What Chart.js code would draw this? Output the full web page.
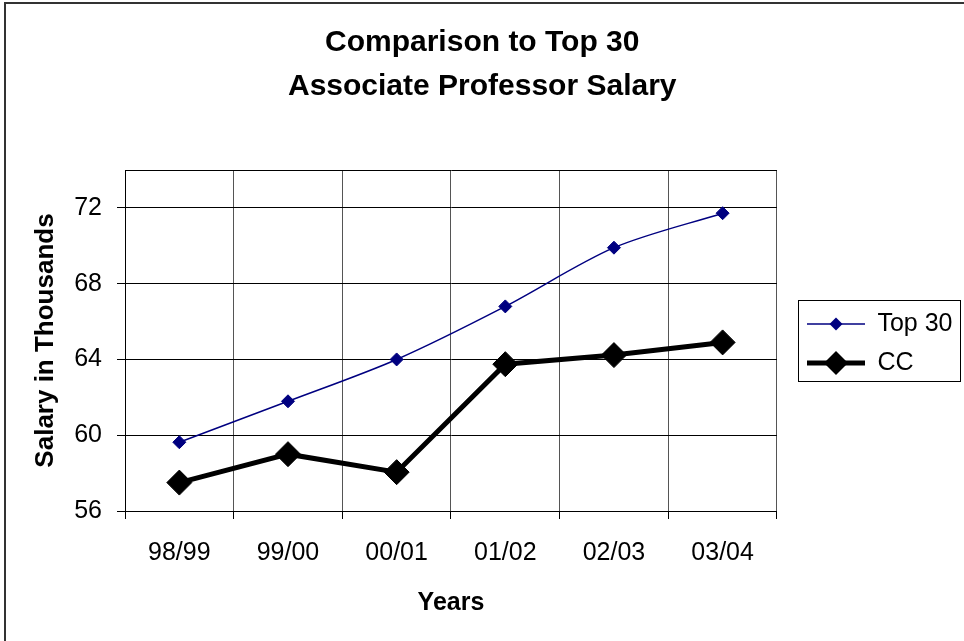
<!DOCTYPE html>
<html>
<head>
<meta charset="utf-8">
<title>Comparison to Top 30 - Associate Professor Salary</title>
<script src="https://cdn.jsdelivr.net/npm/chart.js@4.4.1/dist/chart.umd.min.js"></script>
<style>
  html, body { margin: 0; padding: 0; background: #fff; overflow: hidden; }
  #frame { position: absolute; left: 4px; top: 2px; width: 2000px; height: 2000px;
           border: 2px solid #333; pointer-events: none; }
  #salaryChart { position: absolute; left: 0; top: 0; }
</style>
</head>
<body>
<canvas id="salaryChart" width="964" height="641"></canvas>
<div id="frame"></div>
<script>
/* ================= Data ================= */

const years = ['98/99', '99/00', '00/01', '01/02', '02/03', '03/04'];
const top30 = [59.63, 61.79, 64.0, 66.8, 69.9, 71.72];
const cc = [57.5, 59.0, 58.05, 63.75, 64.23, 64.9];
const yTicks = [56, 60, 64, 68, 72];
const yMin = 56;
const yMax = 74;

/* ================= Styling ================= */

const FONT = "'Liberation Sans', Arial, sans-serif";
Chart.defaults.font.family = FONT;
Chart.defaults.color = '#000';

// legend sample: short line with a diamond, like the Excel key.
// the blank strip on its left keeps the legend away from the plot
const KEY_GAP = 16;
const KEY_LEN = 58;
function legendSample(lineWidth, color, radius) {
  const c = document.createElement('canvas');
  c.width = KEY_GAP + KEY_LEN;
  c.height = 28;
  const g = c.getContext('2d');
  const mid = KEY_GAP + KEY_LEN / 2;
  g.strokeStyle = color;
  g.fillStyle = color;
  g.lineWidth = lineWidth;
  g.beginPath();
  g.moveTo(KEY_GAP, 14);
  g.lineTo(KEY_GAP + KEY_LEN, 14);
  g.stroke();
  g.beginPath();
  g.moveTo(mid - radius, 14);
  g.lineTo(mid, 14 - radius);
  g.lineTo(mid + radius, 14);
  g.lineTo(mid, 14 + radius);
  g.closePath();
  g.fill();
  return c;
}
const samples = [legendSample(1.5, '#000080', 6.5), legendSample(5, '#000', 12)];

// box around the legend
const legendBox = {
  id: 'legendBox',
  afterDraw(chart) {
    const boxes = chart.legend.legendHitBoxes;
    if (!boxes || !boxes.length) return;
    const left = Math.min(...boxes.map(b => b.left)) + KEY_GAP - 9;
    const right = Math.max(...boxes.map(b => b.left + b.width)) + 7;
    const top = boxes[0].top - 11.5;
    const last = boxes[boxes.length - 1];
    const bottom = last.top + last.height + 5.5;
    const ctx = chart.ctx;
    ctx.save();
    ctx.strokeStyle = '#000';
    ctx.lineWidth = 1;
    ctx.strokeRect(Math.round(left) + 0.5, Math.round(top) + 0.5, Math.round(right - left), Math.round(bottom - top));
    ctx.restore();
  }
};

/* ================= Line Chart ================= */

const ctx = document.getElementById('salaryChart');

new Chart(ctx, {
  type: 'line',
  data: {
    labels: years,
    datasets: [{
      label: 'Top 30',
      data: top30,
      borderColor: '#000080',
      backgroundColor: '#000080',
      borderWidth: 1.5,
      tension: 0.3,
      pointStyle: 'rectRot',
      pointRadius: 6.5,
      pointBorderWidth: 1,
      pointBackgroundColor: '#000080',
      pointBorderColor: '#000080'
    }, {
      label: 'CC',
      data: cc,
      borderColor: '#000',
      backgroundColor: '#000',
      borderWidth: 5,
      tension: 0,
      pointStyle: 'rectRot',
      pointRadius: 12.5,
      pointBorderWidth: 1,
      pointBackgroundColor: '#000',
      pointBorderColor: '#000'
    }]
  },
  options: {
    responsive: false,
    animation: false,
    events: [],
    layout: { padding: { left: 2, right: 1.5, top: 0, bottom: 18 } },
    plugins: {
      title: {
        display: true,
        text: ['Comparison to Top 30', 'Associate Professor Salary'],
        font: { size: 30, weight: 'bold', lineHeight: 1.45 },
        color: '#000',
        padding: { top: 21, bottom: 62 }
      },
      legend: {
        position: 'right',
        fullSize: false,
        title: { display: true, text: '', font: { size: 6, lineHeight: 1 }, padding: 0 },
        labels: {
          font: { size: 25 },
          color: '#000',
          usePointStyle: true,
          pointStyleWidth: KEY_GAP + KEY_LEN,
          padding: 14,
          generateLabels(chart) {
            return Chart.defaults.plugins.legend.labels.generateLabels(chart).map((item, i) => {
              item.pointStyle = samples[i];
              return item;
            });
          }
        }
      },
      tooltip: { enabled: false }
    },
    scales: {
      x: {
        offset: true,
        grid: { offset: true, color: '#555', tickColor: '#000', tickLength: 8, drawTicks: true },
        border: { color: '#000', width: 1 },
        ticks: { font: { size: 25 }, color: '#000', padding: 19.5, maxRotation: 0, autoSkip: false },
        title: {
          display: true,
          text: 'Years',
          font: { size: 25, weight: 'bold' },
          color: '#000',
          padding: { top: 0, bottom: 5 }
        }
      },
      y: {
        min: yMin,
        max: yMax,
        afterBuildTicks(scale) {
          scale.ticks = yTicks.concat([yMax]).map(v => ({ value: v }));
        },
        grid: {
          color: '#000',
          tickLength: 8,
          tickColor: c => (c.tick && c.tick.value === yMax ? 'rgba(0,0,0,0)' : '#000')
        },
        border: { color: '#000', width: 1 },
        ticks: {
          font: { size: 25 },
          color: '#000',
          padding: 15,
          callback: v => (yTicks.includes(v) ? String(v) : '')
        },
        title: {
          display: true,
          text: 'Salary in Thousands',
          font: { size: 26, weight: 'bold', lineHeight: 1 },
          color: '#000',
          padding: { top: 31, bottom: 0.2 }
        }
      }
    }
  },
  plugins: [legendBox]
});
</script>
</body>
</html>
